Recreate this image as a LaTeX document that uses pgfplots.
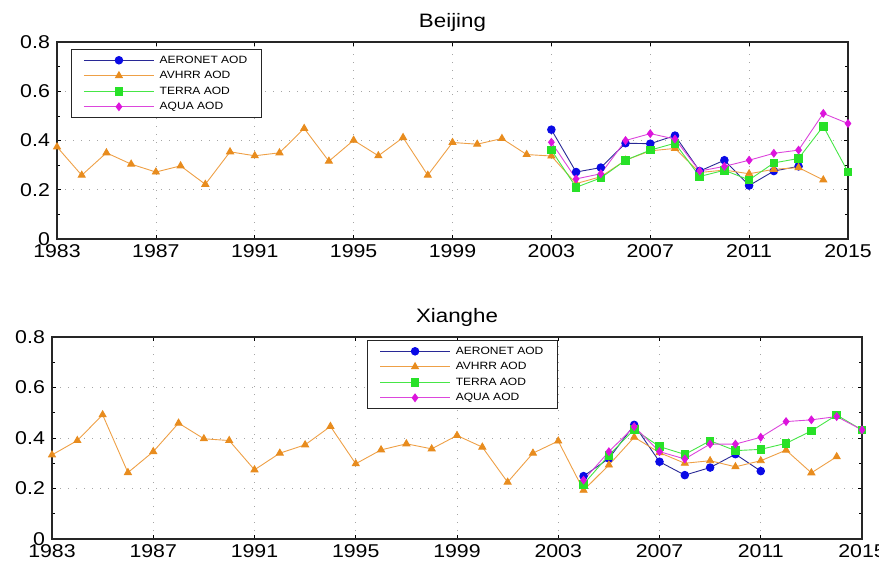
\documentclass[border=0pt]{standalone}
\usepackage{pgfplots}
\pgfplotsset{compat=1.18}
\usepackage{fontspec}
\setmainfont{Liberation Sans}
\definecolor{aeroL}{RGB}{40,40,150}
\definecolor{aeroM}{RGB}{10,10,230}
\definecolor{avhL}{RGB}{238,160,70}
\definecolor{avhM}{RGB}{232,140,30}
\definecolor{terL}{RGB}{70,230,70}
\definecolor{terM}{RGB}{40,225,40}
\definecolor{aquL}{RGB}{220,70,220}
\definecolor{aquM}{RGB}{220,20,220}
\pgfplotsset{
  mystyle/.style={
    scale only axis,
    xmin=1983, xmax=2015, ymin=0, ymax=0.8,
    xtick={1983,1987,...,2015},
    ytick={0,0.2,0.4,0.6,0.8},
    minor ytick={0.1,0.3,0.5,0.7},
    yticklabels={0,0.2,0.4,0.6,0.8},
    xticklabels={1983,1987,1991,1995,1999,2003,2007,2011,2015},
    tick align=inside,
    major tick length=4bp, minor tick length=3bp,
    every tick/.style={black, line width=0.6bp},
    axis line style={line width=1.3bp, black!85},
    grid=major,
    major grid style={gray!70, line width=0.7bp, dash pattern=on 1bp off 7bp},
    /pgf/number format/assume math mode=true,
    ticklabel style={font=\fontsize{18.6}{20}\selectfont, xscale=1.15, inner sep=0pt},
    xticklabel style={anchor=north, yshift=-5bp},
    yticklabel style={anchor=east, xshift=-6bp},
    title style={font=\fontsize{19.5}{21}\selectfont, xscale=1.15, anchor=base, yshift=9bp},
    legend cell align=left,
    legend style={draw=black!85, line width=1bp, fill=white,
      font=\fontsize{10.6}{12}\selectfont,
      inner xsep=12bp, inner ysep=4bp, row sep=2bp,
      /tikz/every odd column/.append style={column sep=3bp},
      nodes={text height=7.5bp, text depth=2bp, inner sep=2bp, xscale=1.14}},
    legend image code/.code={
      \draw[mark repeat=2, mark phase=2, line width=0.9bp, ##1] plot coordinates {(0bp,0bp) (35bp,0bp) (70bp,0bp)};},
    every axis plot/.append style={line width=0.9bp},
  },
  aero/.style={color=aeroL, mark=*, mark size=3.8bp, mark options={fill=aeroM, draw=aeroM, solid}},
  avh/.style={color=avhL, mark=triangle*, mark size=4bp, mark options={fill=avhM, draw=avhM, solid}},
  ter/.style={color=terL, mark=square*, mark size=3.8bp, mark options={fill=terM, draw=terM, solid}},
  aqu/.style={color=aquL, mark=diamond*, mark size=3.8bp, mark options={fill=aquM, draw=aquM, solid}},
}
\begin{document}
\begin{tikzpicture}
\useasboundingbox (0bp,0bp) rectangle (879bp,-569bp);
\begin{axis}[mystyle, at={(57bp,-239bp)}, anchor=south west, width=791bp, height=197bp,
  title={Beijing},
  legend style={at={(axis description cs:0.0177,0.9645)}, anchor=north west}]
\addplot[aero] coordinates {(2003,0.444) (2004,0.272) (2005,0.290) (2006,0.389) (2007,0.387) (2008,0.420) (2009,0.276) (2010,0.320) (2011,0.217) (2012,0.276) (2013,0.295)};
\addlegendentry{AERONET AOD}
\addplot[avh] coordinates {(1983,0.374) (1984,0.259) (1985,0.350) (1986,0.304) (1987,0.272) (1988,0.297) (1989,0.222) (1990,0.354) (1991,0.338) (1992,0.350) (1993,0.449) (1994,0.316) (1995,0.401) (1996,0.338) (1997,0.412) (1998,0.259) (1999,0.392) (2000,0.385) (2001,0.408) (2002,0.343) (2003,0.337) (2004,0.225) (2005,0.253) (2006,0.320) (2007,0.358) (2008,0.368) (2009,0.270) (2010,0.280) (2011,0.265) (2012,0.283) (2013,0.290) (2014,0.240)};
\addlegendentry{AVHRR AOD}
\addplot[ter] coordinates {(2003,0.361) (2004,0.210) (2005,0.248) (2006,0.320) (2007,0.361) (2008,0.389) (2009,0.254) (2010,0.279) (2011,0.240) (2012,0.309) (2013,0.327) (2014,0.458) (2015,0.272)};
\addlegendentry{TERRA AOD}
\addplot[aqu] coordinates {(2003,0.393) (2004,0.244) (2005,0.265) (2006,0.400) (2007,0.428) (2008,0.406) (2009,0.276) (2010,0.295) (2011,0.320) (2012,0.348) (2013,0.361) (2014,0.510) (2015,0.469)};
\addlegendentry{AQUA AOD}
\end{axis}
\begin{axis}[mystyle, at={(52bp,-539bp)}, anchor=south west, width=810bp, height=202bp,
  title={Xianghe},
  legend style={at={(axis description cs:0.389,0.985)}, anchor=north west}]
\addplot[aero] coordinates {(2004,0.249) (2005,0.319) (2006,0.452) (2007,0.306) (2008,0.253) (2009,0.283) (2010,0.336) (2011,0.269)};
\addlegendentry{AERONET AOD}
\addplot[avh] coordinates {(1983,0.333) (1984,0.390) (1985,0.492) (1986,0.263) (1987,0.346) (1988,0.459) (1989,0.397) (1990,0.390) (1991,0.274) (1992,0.340) (1993,0.373) (1994,0.446) (1995,0.298) (1996,0.353) (1997,0.377) (1998,0.357) (1999,0.410) (2000,0.364) (2001,0.225) (2002,0.340) (2003,0.388) (2004,0.193) (2005,0.293) (2006,0.403) (2007,0.342) (2008,0.300) (2009,0.310) (2010,0.286) (2011,0.310) (2012,0.352) (2013,0.262) (2014,0.326)};
\addlegendentry{AVHRR AOD}
\addplot[ter] coordinates {(2004,0.217) (2005,0.332) (2006,0.434) (2007,0.366) (2008,0.335) (2009,0.389) (2010,0.350) (2011,0.355) (2012,0.379) (2013,0.428) (2014,0.491) (2015,0.432)};
\addlegendentry{TERRA AOD}
\addplot[aqu] coordinates {(2004,0.233) (2005,0.346) (2006,0.445) (2007,0.346) (2008,0.317) (2009,0.376) (2010,0.376) (2011,0.403) (2012,0.465) (2013,0.472) (2014,0.485) (2015,0.432)};
\addlegendentry{AQUA AOD}
\end{axis}
\end{tikzpicture}
\end{document}
